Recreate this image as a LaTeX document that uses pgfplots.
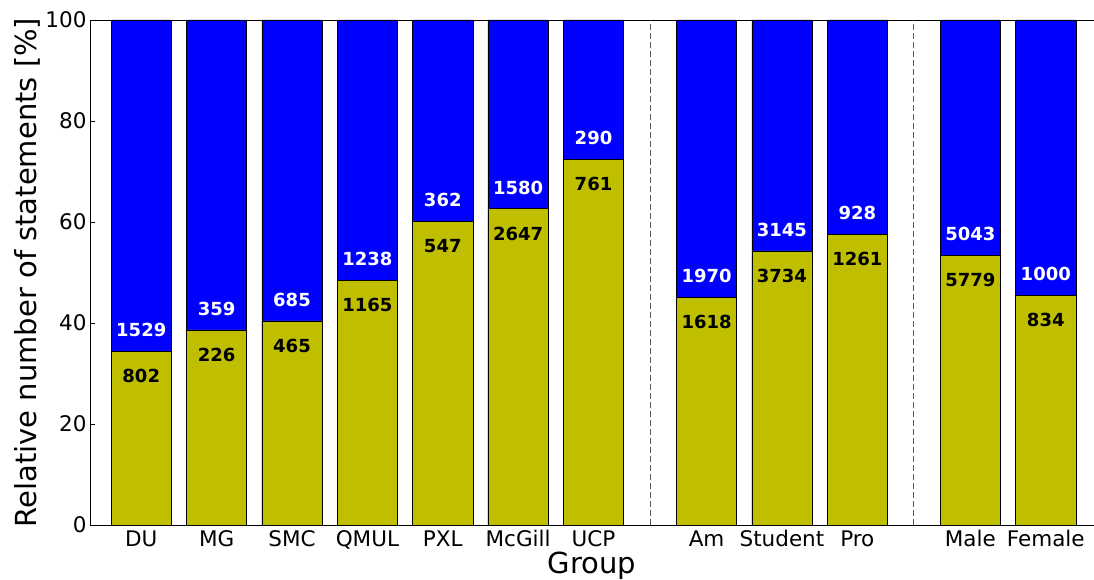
\documentclass[border=0pt]{standalone}
\usepackage{pgfplots}
\pgfplotsset{compat=1.18}
\usepackage{pgfplotstable}
\usepackage{fontspec}
\setmainfont{DejaVu Sans}
\usetikzlibrary{calc}
\definecolor{olivebar}{HTML}{BFBF00}
\definecolor{bluebar}{HTML}{0000FF}

\pgfplotstableread{
x     b      full  nb    nt
0     34.41  100   802   1529
1     38.63  100   226   359
2     40.43  100   465   685
3     48.48  100   1165  1238
4     60.18  100   547   362
5     62.62  100   2647  1580
6     72.41  100   761   290
7.5   45.09  100   1618  1970
8.5   54.28  100   3734  3145
9.5   57.61  100   1261  928
11    53.40  100   5779  5043
12    45.47  100   834   1000
}\datatable

\begin{document}
\begin{tikzpicture}
\begin{axis}[
  scale only axis,
  width=1004pt, height=505pt,
  xmin=-0.68, xmax=12.64,
  ymin=0, ymax=100,
  axis y line*=left,
  axis x line*=box,
  xtick={0,1,2,3,4,5,6,7.5,8.5,9.5,11,12},
  xticklabels={DU,MG,SMC,QMUL,PXL,McGill,UCP,Am,Student,Pro,Male,Female},
  ytick={0,20,40,60,80,100},
  tick align=inside,
  major tick length=5pt,
  tick style={black, line width=0.6pt},
  axis line style={black, line width=0.8pt},
  ticklabel style={font=\fontsize{21.5}{24}\selectfont},
  /pgf/number format/assume math mode=true,
  xticklabel style={yshift=-2pt},
  xlabel={Group},
  ylabel={Relative number of statements [\%]},
  xlabel style={font=\fontsize{29}{32}\selectfont, yshift=4pt},
  ylabel style={font=\fontsize{29}{32}\selectfont, yshift=-2pt},
  extra x ticks={6.75,10.25},
  extra x tick labels={},
  extra x tick style={grid=major, major grid style={dash pattern=on 6pt off 3pt, gray!70!black, line width=1pt}, major tick length=0pt},
  clip=false,
]
\addplot[ybar, bar width=0.8, bar shift=0pt, fill=bluebar, draw=black, line width=0.6pt] table[x=x, y=full] {\datatable};
\addplot[ybar, bar width=0.8, bar shift=0pt, fill=olivebar, draw=black, line width=0.6pt] table[x=x, y=b] {\datatable};
\addplot[draw=none, mark=none, nodes near coords, point meta=explicit symbolic,
  every node near coord/.style={anchor=center, yshift=-25pt, font=\fontsize{18}{20}\selectfont\bfseries, text=black}]
  table[x=x, y=b, meta=nb] {\datatable};
\addplot[draw=none, mark=none, nodes near coords, point meta=explicit symbolic,
  every node near coord/.style={anchor=center, yshift=21pt, font=\fontsize{18}{20}\selectfont\bfseries, text=white}]
  table[x=x, y=b, meta=nt] {\datatable};
\end{axis}
\pgfresetboundingbox
\path[use as bounding box] ($(current axis.south west)+(-90pt,-55pt)$) rectangle ($(current axis.north east)+(0pt,20pt)$);
\end{tikzpicture}
\end{document}
